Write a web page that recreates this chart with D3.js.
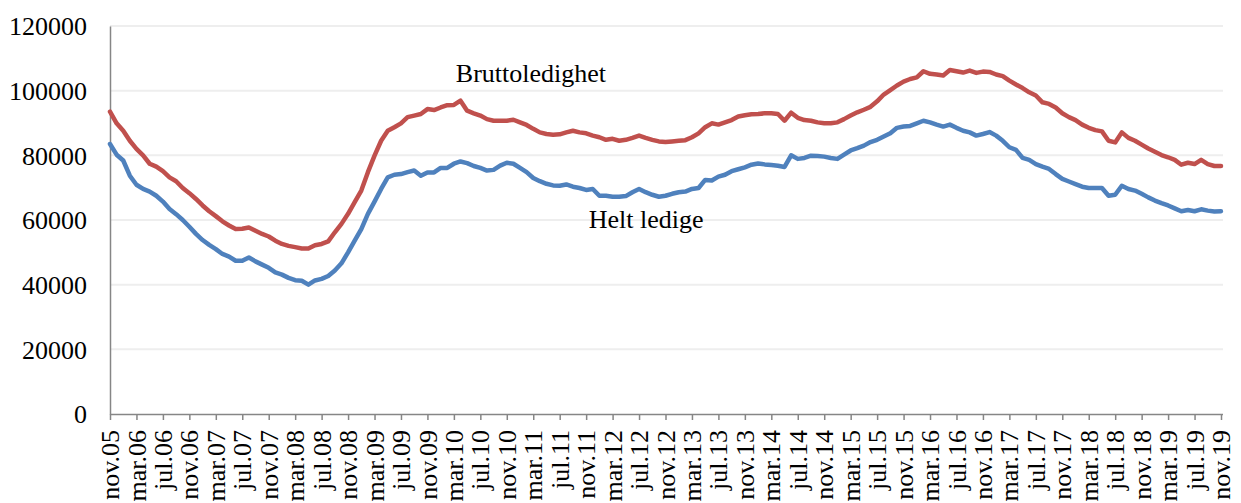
<!DOCTYPE html>
<html>
<head>
<meta charset="utf-8">
<script src="https://cdn.jsdelivr.net/npm/d3@7"></script>
<style>
    html, body { margin: 0; padding: 0; background: #fff; }
    svg { display: block; }
    text { font-family: 'Liberation Serif', 'Times New Roman', serif; fill: #000; }
</style>
</head>
<body>
<div id="chart"></div>
<script>
// monthly values nov.05 .. nov.19
const bruttoledighet = [
    93500, 89900, 87600, 84500, 82000, 80000, 77400, 76500, 75100, 73200, 72000, 69900,
    68300, 66500, 64500, 62700, 61200, 59600, 58300, 57200, 57300, 57700, 56700, 55700,
    54900, 53600, 52600, 52000, 51600, 51200, 51200, 52200, 52600, 53400, 56200, 58800,
    61900, 65500, 69100, 74800, 79900, 84500, 87600, 88700, 89900, 91800, 92300, 92800,
    94300, 94000, 94800, 95500, 95600, 96900, 93800, 93000, 92300, 91200, 90700, 90700,
    90700, 91000, 90200, 89400, 88200, 87100, 86600, 86400, 86500, 87100, 87600, 87100,
    86800, 86100, 85600, 84800, 85100, 84500, 84800, 85400, 86100, 85400, 84800, 84300,
    84100, 84300, 84500, 84700, 85600, 86800, 88700, 89900, 89500, 90200, 90900, 92000,
    92400, 92700, 92800, 93000, 93000, 92800, 90700, 93200, 91600, 90900, 90700, 90200,
    89900, 89900, 90200, 91200, 92300, 93300, 94100, 95000, 96700, 98800, 100200, 101600,
    102800, 103600, 104100, 106000, 105200, 105000, 104700, 106400, 106000, 105600, 106200, 105500,
    105900, 105800, 105000, 104500, 103100, 101900, 100800, 99500, 98500, 96400, 95900, 94800,
    93000, 91800, 90900, 89500, 88500, 87800, 87400, 84500, 84000, 87100, 85400, 84500,
    83300, 82100, 81100, 80100, 79400, 78600, 77100, 77700, 77300, 78600, 77300, 76700,
    76700
];

const heltLedige = [
    83500, 80200, 78400, 73700, 70900, 69600, 68800, 67500, 65700, 63400, 61800, 60000,
    57900, 55700, 53800, 52300, 51000, 49500, 48700, 47400, 47400, 48400, 47200, 46200,
    45200, 43800, 43100, 42100, 41400, 41200, 40000, 41300, 41800, 42700, 44400, 46600,
    50000, 53600, 57200, 61900, 65700, 69600, 73200, 74000, 74200, 74800, 75300, 73700,
    74700, 74700, 76100, 76100, 77400, 78100, 77600, 76700, 76100, 75300, 75500, 76800,
    77700, 77400, 76100, 74800, 73000, 72000, 71200, 70700, 70600, 71000, 70300, 69900,
    69300, 69600, 67500, 67500, 67200, 67200, 67400, 68600, 69600, 68600, 67800, 67200,
    67500, 68100, 68600, 68800, 69600, 69900, 72400, 72200, 73400, 74000, 75100, 75700,
    76300, 77100, 77500, 77200, 77000, 76800, 76400, 80000, 78900, 79200, 79900, 79800,
    79600, 79200, 78900, 80200, 81500, 82200, 83000, 84100, 84800, 85800, 86800, 88500,
    88900, 89100, 89900, 90700, 90200, 89500, 88900, 89500, 88500, 87600, 87100, 86100,
    86600, 87200, 86100, 84500, 82500, 81700, 79200, 78600, 77300, 76500, 75800, 74200,
    72700, 71900, 71100, 70300, 69900, 69900, 69900, 67500, 67800, 70600, 69600, 69100,
    68100, 67000, 66000, 65200, 64500, 63600, 62700, 63100, 62700, 63300, 62900, 62600,
    62700
];

// every 4th month is labelled
const tickLabels = [
    'nov.05', 'mar.06', 'jul.06', 'nov.06', 'mar.07', 'jul.07', 'nov.07', 'mar.08', 'jul.08',
    'nov.08', 'mar.09', 'jul.09', 'nov.09', 'mar.10', 'jul.10', 'nov.10', 'mar.11', 'jul.11',
    'nov.11', 'mar.12', 'jul.12', 'nov.12', 'mar.13', 'jul.13', 'nov.13', 'mar.14', 'jul.14',
    'nov.14', 'mar.15', 'jul.15', 'nov.15', 'mar.16', 'jul.16', 'nov.16', 'mar.17', 'jul.17',
    'nov.17', 'mar.18', 'jul.18', 'nov.18', 'mar.19', 'jul.19', 'nov.19'
];

const yTicks = [0, 20000, 40000, 60000, 80000, 100000, 120000];

// series label text with [month index, value] anchor
const seriesLabels = [
    { text: 'Bruttoledighet', at: [52.3, 102700] },
    { text: 'Helt ledige', at: [72.4, 57400] }
];

const W = 1241, H = 503;
const margin = { top: 26, right: 20, bottom: 89, left: 110 };

const svg = d3.select('#chart').append('svg')
    .attr('width', W)
    .attr('height', H);

const x = d3.scaleLinear()
    .domain([0, bruttoledighet.length - 1])
    .range([margin.left, 1221]);

const y = d3.scaleLinear()
    .domain([0, 120000])
    .range([H - margin.bottom, margin.top]);

// gridlines
svg.append('g')
    .attr('class', 'grid')
    .selectAll('line')
    .data(yTicks.slice(1))
    .enter()
    .append('line')
    .attr('x1', margin.left)
    .attr('x2', 1223)
    .attr('y1', (d) => y(d))
    .attr('y2', (d) => y(d))
    .style('stroke', '#eeeeee')
    .style('stroke-width', 2);

// y axis
const yAxis = svg.append('g')
    .attr('transform', `translate(${margin.left},0)`)
    .call(d3.axisLeft(y).tickValues(yTicks).tickSize(0).tickPadding(23).tickFormat(d3.format('d')));
yAxis.select('.domain').style('stroke', '#868686').style('stroke-width', 1.5);
yAxis.selectAll('text')
    .style('font-size', '26px')
    .style('font-family', "'Liberation Serif', serif")
    .attr('dy', '0.34em');

// x axis
const xAxis = svg.append('g')
    .attr('transform', `translate(0,${y(0)})`)
    .call(d3.axisBottom(x)
        .tickValues(d3.range(0, bruttoledighet.length, 4))
        .tickSize(6)
        .tickSizeOuter(0)
        .tickFormat((d, i) => tickLabels[i]));
xAxis.select('.domain')
    .attr('d', `M${margin.left},0.5H1223`)
    .style('stroke', '#868686')
    .style('stroke-width', 1.5);
xAxis.selectAll('.tick line').style('stroke', '#868686').style('stroke-width', 1.5);
xAxis.selectAll('text')
    .style('font-size', '26px')
    .style('font-family', "'Liberation Serif', serif")
    .style('text-anchor', 'end')
    .attr('transform', 'rotate(-90)')
    .attr('x', -16)
    .attr('y', 0)
    .attr('dy', '0.33em');

// lines
const line = d3.line()
    .x((d, i) => x(i))
    .y((d) => y(d));

const series = [
    { values: bruttoledighet, color: '#C0504D' },
    { values: heltLedige, color: '#4F81BD' }
];

svg.append('g')
    .selectAll('path')
    .data(series)
    .enter()
    .append('path')
    .attr('d', (d) => line(d.values))
    .style('fill', 'none')
    .style('stroke', (d) => d.color)
    .style('stroke-width', 4.5)
    .style('stroke-linejoin', 'round')
    .style('stroke-linecap', 'round');

// series labels
svg.append('g')
    .selectAll('text')
    .data(seriesLabels)
    .enter()
    .append('text')
    .attr('x', (d) => x(d.at[0]))
    .attr('y', (d) => y(d.at[1]))
    .style('font-size', '26px')
    .text((d) => d.text);
</script>
</body>
</html>
